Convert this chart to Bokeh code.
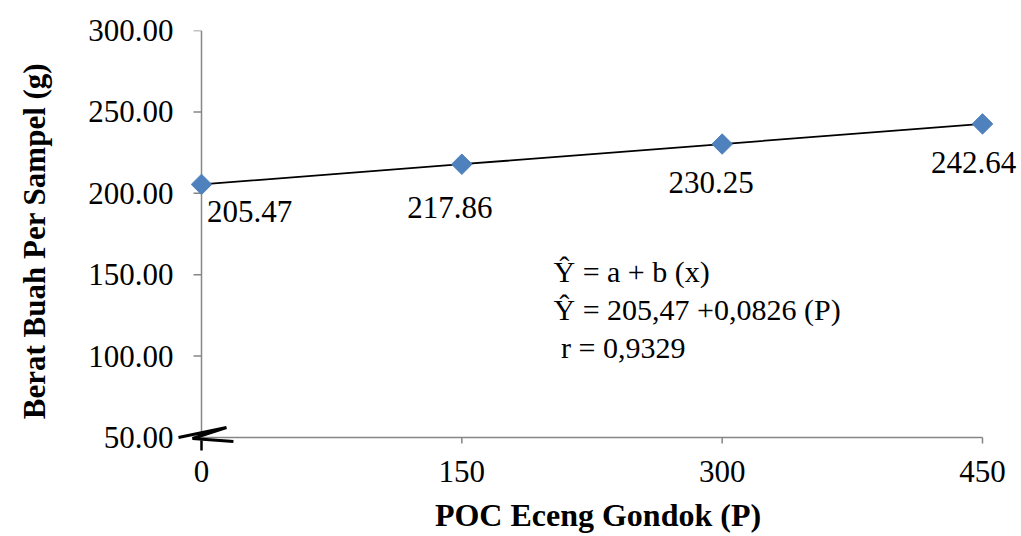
import math
from bokeh.plotting import figure
from bokeh.models import ColumnDataSource, FixedTicker, Range1d, CustomJSTickFormatter
from bokeh.core.properties import value
from bokeh.embed import file_html
from bokeh.resources import INLINE

# data
dose = [0, 150, 300, 450]
weight = [205.47, 217.86, 230.25, 242.64]
labels = ["205.47", "217.86", "230.25", "242.64"]
x_ticks = [0, 150, 300, 450]
y_ticks = [50, 100, 150, 200, 250, 300]
equation = ["\u0176 = a + b (x)", "\u0176 = 205,47 +0,0826 (P)", "\u00a0r = 0,9329"]

FONT = value("Liberation Serif")
AXIS_C = "#868686"

SX = 781 / 450.0   # px per x unit
SY = 407 / 250.0   # px per y unit

W, H = 1020, 535
LEFT_PAD = 26      # px between frame left edge and x = 0
BOT_PAD = 14       # px between frame bottom edge and y = 50
p = figure(width=W, height=H, output_backend="svg", toolbar_location=None,
           x_range=Range1d(-LEFT_PAD / SX, 450 + (W - 982) / SX),
           y_range=Range1d(50 - BOT_PAD / SY, 300),
           min_border_left=201 - LEFT_PAD, min_border_right=0, min_border_top=30,
           min_border_bottom=H - 437 - BOT_PAD)
p.outline_line_color = None
p.xgrid.visible = False
p.ygrid.visible = False
p.background_fill_color = "white"
p.border_fill_color = "white"

# axes: built-in axes give the tick labels and titles; lines/ticks drawn at x=0 / y=50
p.xaxis.ticker = FixedTicker(ticks=x_ticks)
p.yaxis.ticker = FixedTicker(ticks=y_ticks)
p.yaxis.formatter = CustomJSTickFormatter(code="return tick.toFixed(2);")
for ax in (p.xaxis[0], p.yaxis[0]):
    ax.axis_line_color = None
    ax.major_tick_line_color = None
    ax.minor_tick_line_color = None
    ax.major_tick_in = 0
    ax.major_tick_out = 0
    ax.major_label_text_font = "Liberation Serif"
    ax.major_label_text_font_size = "31px"
    ax.major_label_text_color = "black"
    ax.axis_label_text_font = "Liberation Serif"
    ax.axis_label_text_font_style = "bold"
    ax.axis_label_text_color = "black"
p.xaxis.major_label_standoff = 9
p.xaxis.axis_label = "POC Eceng Gondok (P)"
p.xaxis.axis_label_text_font_size = "32px"
p.xaxis.axis_label_standoff = 12
p.yaxis.major_label_standoff = 2
p.yaxis.axis_label = "Berat Buah Per Sampel (g)"
p.yaxis.axis_label_text_font_size = "31px"
p.yaxis.axis_label_standoff = 33

# axis lines and tick marks
p.segment(x0=[0, 0], y0=[y_ticks[0], y_ticks[0]], x1=[0, x_ticks[-1]],
          y1=[y_ticks[-1], y_ticks[0]], line_color=AXIS_C, line_width=1.5)
p.ray(x=[0] * len(y_ticks), y=y_ticks, length=8, length_units="screen",
      angle=180, angle_units="deg", line_color=AXIS_C, line_width=1.5)
p.ray(x=x_ticks, y=[y_ticks[0]] * len(x_ticks), length=6, length_units="screen",
      angle=-90, angle_units="deg", line_color=AXIS_C, line_width=1.5)

src = ColumnDataSource(dict(x=dose, y=weight))
p.line("x", "y", source=src, line_color="black", line_width=1.8)
p.scatter("x", "y", source=src, marker="square", angle=math.pi / 4, size=14.5,
          fill_color="#4F81BD", line_color="#4F81BD")

# data labels
p.text(x=dose, y=weight, text=labels, x_offset=[48, -12, -11, -9],
       y_offset=[27, 43, 38, 39], text_font=FONT, text_font_size="31px",
       text_align="center", text_baseline="middle", text_color="black")

# equation block
p.text(x=[202.8, 202.8, 202.8], y=[152.2, 128.8, 105.3], text=equation,
       text_font=FONT, text_font_size="30px", text_align="left",
       text_baseline="middle", text_color="black")

# axis break mark (zigzag)
bx = [-13.25, 14.4, -5.2, 18.4]
by = [50, 56.1, 49.4, 47.5]
p.line(bx, by, line_color="black", line_width=3)
p.line([0, 0], [48.2, 42.0], line_color="black", line_width=2.5)

open("out.html", "w").write(file_html(p, INLINE))
